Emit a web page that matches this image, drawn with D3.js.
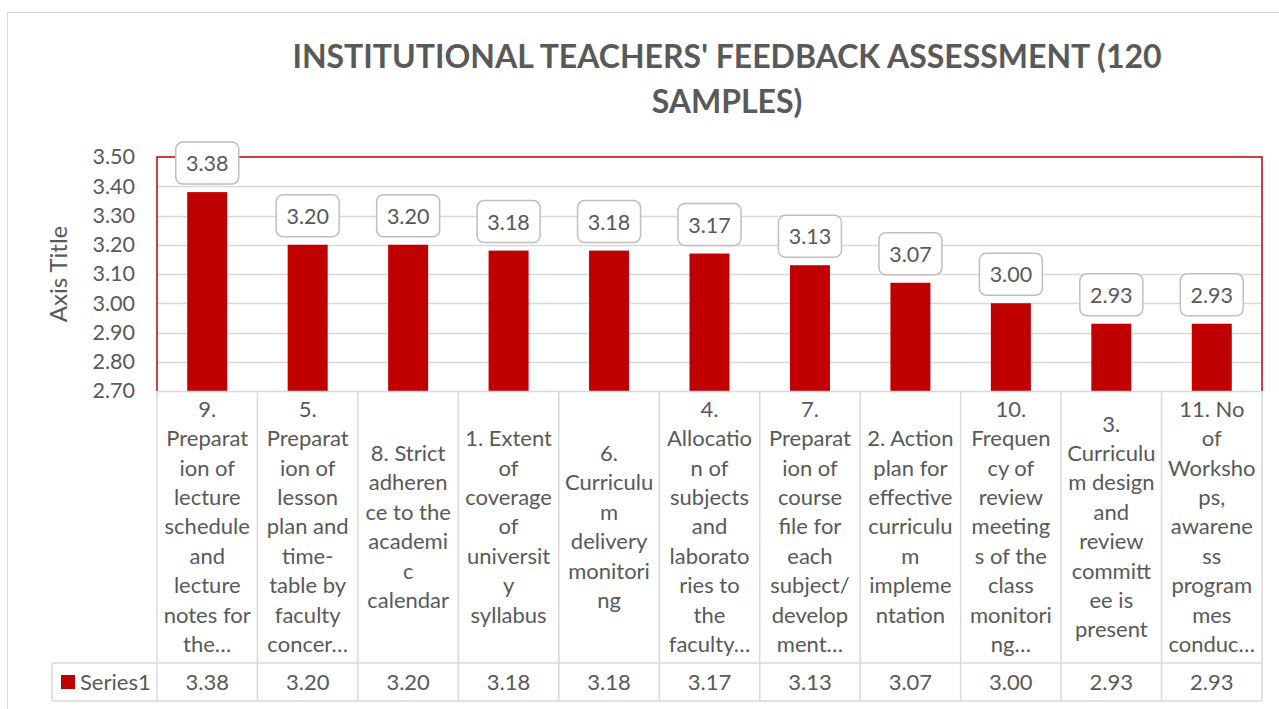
<!DOCTYPE html>
<html><head><meta charset="utf-8">
<script src="https://cdn.jsdelivr.net/npm/d3@7"></script>
<style>html,body{margin:0;padding:0;background:#fff;}svg{display:block;font-family:Lato,"Open Sans",sans-serif;}</style>
</head><body><svg id="c" width="1279" height="709"></svg>
<script>
const titleLines = ["INSTITUTIONAL TEACHERS' FEEDBACK ASSESSMENT (120", "SAMPLES)"];
const yAxisTitle = "Axis Title";
const seriesName = "Series1";
const categoryLines = [
  ["9.","Preparat","ion of","lecture","schedule","and","lecture","notes for","the…"],
  ["5.","Preparat","ion of","lesson","plan and","time-","table by","faculty","concer…"],
  ["8. Strict","adheren","ce to the","academi","c","calendar"],
  ["1. Extent","of","coverage","of","universit","y","syllabus"],
  ["6.","Curriculu","m","delivery","monitori","ng"],
  ["4.","Allocatio","n of","subjects","and","laborato","ries to","the","faculty…"],
  ["7.","Preparat","ion of","course","file for","each","subject/","develop","ment…"],
  ["2. Action","plan for","effective","curriculu","m","impleme","ntation"],
  ["10.","Frequen","cy of","review","meeting","s of the","class","monitori","ng…"],
  ["3.","Curriculu","m design","and","review","committ","ee is","present"],
  ["11. No","of","Worksho","ps,","awarene","ss","program","mes","conduc…"]
];
const values = [3.38, 3.20, 3.20, 3.18, 3.18, 3.17, 3.13, 3.07, 3.00, 2.93, 2.93];
const yTicks = [2.70, 2.80, 2.90, 3.00, 3.10, 3.20, 3.30, 3.40, 3.50];

const svg = d3.select("#c");
const textCol = "#595959", gridCol = "#D9D9D9", red = "#C00000";
const L = 157, R = 1262, T = 157, B = 391, rowB = 663, tableB = 701, legL = 52;

// chart border
svg.append("rect").attr("x",7.5).attr("y",12.5).attr("width",1290).attr("height",720)
  .attr("fill","#fff").attr("stroke",gridCol).attr("stroke-width",1);

const idx = d3.range(values.length);
const x = d3.scaleBand().domain(idx).range([L,R]).paddingInner(0).paddingOuter(0);
const y = d3.scaleLinear().domain([2.7,3.5]).range([B,T]);

// gridlines
svg.append("g").selectAll("line").data(yTicks.slice(1,-1)).join("line")
  .attr("x1",L).attr("x2",R).attr("y1",d=>Math.round(y(d))+0.5).attr("y2",d=>Math.round(y(d))+0.5)
  .attr("stroke",gridCol).attr("stroke-width",1.3);

// y axis labels
const ya = d3.axisLeft(y).tickValues(yTicks).tickFormat(d3.format(".2f")).tickSize(0).tickPadding(22);
const yg = svg.append("g").attr("transform",`translate(${L},0)`).call(ya);
yg.select(".domain").remove();
yg.selectAll("text").attr("fill",textCol).style("font-size","21.5px").style("font-family","Lato,sans-serif");

// axis title
svg.append("text").attr("transform",`translate(67,${(T+B)/2}) rotate(-90)`)
  .attr("text-anchor","middle").attr("fill",textCol).style("font-size","24px").text(yAxisTitle);

// bars
const barW = 40;
svg.append("g").selectAll("rect").data(values).join("rect")
  .attr("x",(d,i)=>x(i)+x.bandwidth()/2-barW/2).attr("width",barW)
  .attr("y",d=>y(d)).attr("height",d=>B-y(d)).attr("fill",red);

// plot border (red)
svg.append("path").attr("d",`M${L},${B} V${T} H${R} V${B}`).attr("fill","none")
  .attr("stroke",red).attr("stroke-width",1.5);

// data labels
const lab = svg.append("g").selectAll("g").data(values).join("g")
  .attr("transform",(d,i)=>`translate(${x(i)+x.bandwidth()/2},${y(d)-8})`);
lab.append("rect").attr("x",-31.5).attr("y",-42).attr("width",63).attr("height",42).attr("rx",7)
  .attr("fill","#fff").attr("stroke","#BFBFBF").attr("stroke-width",1.5);
lab.append("text").attr("text-anchor","middle").attr("y",-13).attr("fill",textCol)
  .style("font-size","21.5px").text(d=>d3.format(".2f")(d));

// table
const tg = svg.append("g").attr("stroke",gridCol).attr("stroke-width",1.5);
tg.append("line").attr("x1",L).attr("x2",R).attr("y1",B+0.5).attr("y2",B+0.5);
tg.append("line").attr("x1",legL).attr("x2",R).attr("y1",rowB).attr("y2",rowB);
tg.append("line").attr("x1",legL).attr("x2",R).attr("y1",tableB).attr("y2",tableB);
tg.append("line").attr("x1",legL).attr("x2",legL).attr("y1",rowB).attr("y2",tableB);
tg.selectAll("line.v").data(d3.range(values.length+1)).join("line").attr("class","v")
  .attr("x1",i=>i<values.length?x(i):R).attr("x2",i=>i<values.length?x(i):R)
  .attr("y1",B).attr("y2",tableB);

// category labels
const lh = 29.4;
const cg = svg.append("g").selectAll("text").data(categoryLines).join("text")
  .attr("text-anchor","middle").attr("fill",textCol).style("font-size","22px")
  .attr("transform",(d,i)=>`translate(${x(i)+x.bandwidth()/2},${(B+rowB)/2 - (d.length-1)*lh/2 + 7.5})`);
cg.selectAll("tspan").data(d=>d).join("tspan").attr("x",0).attr("y",(d,j)=>j*lh).text(d=>d);

// value row
svg.append("g").selectAll("text").data(values).join("text")
  .attr("text-anchor","middle").attr("fill",textCol).style("font-size","22px")
  .attr("x",(d,i)=>x(i)+x.bandwidth()/2).attr("y",(rowB+tableB)/2+8).text(d=>d3.format(".2f")(d));

// legend key
svg.append("rect").attr("x",61).attr("y",675).attr("width",14).attr("height",14).attr("fill",red);
svg.append("text").attr("x",80).attr("y",690).attr("fill",textCol).style("font-size","22px").text(seriesName);

// title
svg.append("g").selectAll("text").data(titleLines).join("text")
  .attr("x",727).attr("y",(d,i)=>68+i*45).attr("text-anchor","middle")
  .attr("fill",textCol).style("font-size","32px").style("font-weight","bold").text(d=>d);
</script></body></html>
